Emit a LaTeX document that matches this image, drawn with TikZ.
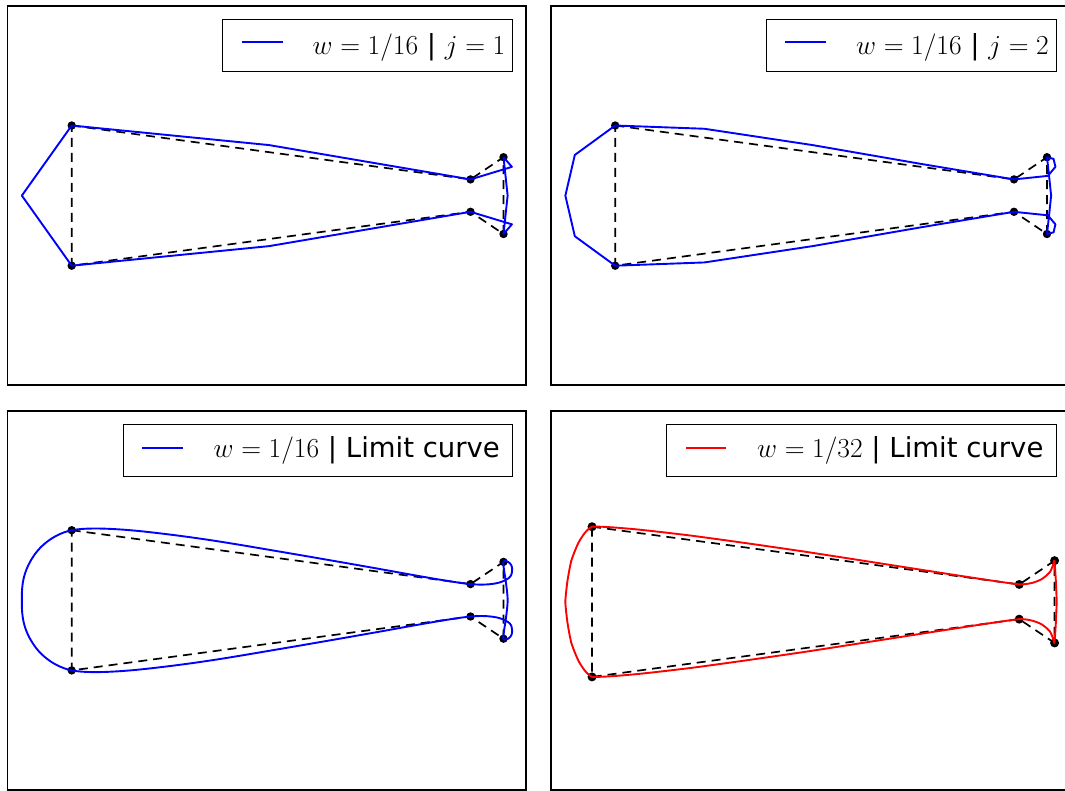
\RequirePackage{fix-cm}
\documentclass[tikz,border=0pt]{standalone}
\usepackage{fontspec}
\newfontfamily\dejavu{DejaVu Sans}

\ExplSyntaxOn
\seq_new:N \g_fourpt_x_seq
\seq_new:N \g_fourpt_y_seq
\seq_new:N \l_fourpt_tmp_seq
\int_new:N \l_fourpt_n_int
\tl_new:N \l_fourpt_path_tl

\cs_new_protected:Npn \fourpt_step:Nn #1 #2
  {
    \int_set:Nn \l_fourpt_n_int { \seq_count:N #1 }
    \seq_clear:N \l_fourpt_tmp_seq
    \int_step_inline:nn { \l_fourpt_n_int }
      {
        \seq_put_right:Nx \l_fourpt_tmp_seq { \seq_item:Nn #1 { ##1 } }
        \seq_put_right:Nx \l_fourpt_tmp_seq
          {
            \fp_eval:n
              {
                ( 0.5 + (#2) ) *
                ( \seq_item:Nn #1 { ##1 }
                  + \seq_item:Nn #1 { \int_mod:nn { ##1 } { \l_fourpt_n_int } + 1 } )
                - (#2) *
                ( \seq_item:Nn #1 { \int_mod:nn { ##1 + \l_fourpt_n_int - 2 } { \l_fourpt_n_int } + 1 }
                  + \seq_item:Nn #1 { \int_mod:nn { ##1 + 1 } { \l_fourpt_n_int } + 1 } )
              }
          }
      }
    \seq_gset_eq:NN #1 \l_fourpt_tmp_seq
  }

\cs_new_protected:Npn \fourpt_draw:nn #1 #2 { \draw [ #1 ] #2 ; }
\cs_generate_variant:Nn \fourpt_draw:nn { nV }

% #1 draw options, #2 weight w, #3 number of steps, #4 x list, #5 y list
\NewDocumentCommand \SubdivCurve { m m m m m }
  {
    \exp_args:NNx \seq_gset_from_clist:Nn \g_fourpt_x_seq { #4 }
    \exp_args:NNx \seq_gset_from_clist:Nn \g_fourpt_y_seq { #5 }
    \prg_replicate:nn { #3 }
      {
        \fourpt_step:Nn \g_fourpt_x_seq { #2 }
        \fourpt_step:Nn \g_fourpt_y_seq { #2 }
      }
    \tl_clear:N \l_fourpt_path_tl
    \int_step_inline:nn { \seq_count:N \g_fourpt_x_seq }
      {
        \tl_put_right:Nx \l_fourpt_path_tl
          {
            ( \fp_eval:n { round( \seq_item:Nn \g_fourpt_x_seq { ##1 } , 3 ) } ,
              \fp_eval:n { round( \seq_item:Nn \g_fourpt_y_seq { ##1 } , 3 ) } ) --
          }
      }
    \tl_put_right:Nn \l_fourpt_path_tl { cycle }
    \fourpt_draw:nV { #1 } \l_fourpt_path_tl
  }
\ExplSyntaxOff

\newcommand{\CtrlX}{71.7,470.5,503.5,503.5,470.5,71.7}
\newcommand{\CtrlY}{125.5,179.4,157.2,234.0,211.8,265.7}

\newcommand{\ControlPolygon}{%
  \coordinate (p1) at (71.7,125.5);
  \coordinate (p3) at (470.5,179.4);
  \coordinate (p5) at (503.5,157.2);
  \coordinate (p6) at (503.5,234.0);
  \coordinate (p4) at (470.5,211.8);
  \coordinate (p2) at (71.7,265.7);
  \draw[ctrl] (p1) -- (p3) -- (p5) -- (p6) -- (p4) -- (p2) -- cycle;
  \foreach \q in {p1,p2,p3,p4,p5,p6} \fill[black] (\q) circle[radius=4.2];
}

\begin{document}
\begin{tikzpicture}[x=1pt,y=-1pt,
  frame/.style={draw=black, line width=1.7pt},
  legbox/.style={draw=black, fill=white, line width=1.3pt},
  ctrl/.style={draw=black, line width=1.7pt, dash pattern=on 9pt off 6pt},
  bluecurve/.style={draw=blue, line width=1.9pt, line join=round},
  redcurve/.style={draw=red, line width=1.9pt, line join=round},
  legline/.style={line width=1.9pt},
  legtext/.style={anchor=base west, inner sep=0pt, font=\fontsize{27.5}{32}\selectfont}
]
\useasboundingbox (0,0) rectangle (1065,790);
\fill[white] (0,0) rectangle (1065,790);

% ---------- frames ----------
\draw[frame] (7.5,6.2) rectangle (526,385.3);
\draw[frame] (551,6.2) rectangle (1069.5,385.3);
\draw[frame] (7.5,410.7) rectangle (526,789.8);
\draw[frame] (551,410.7) rectangle (1069.5,789.8);

% ---------- top left: j = 1 ----------
\begin{scope}
  \ControlPolygon
  \SubdivCurve{bluecurve}{1/16}{1}{\CtrlX}{\CtrlY}
\end{scope}

% ---------- top right: j = 2 ----------
\begin{scope}[shift={(543.5,0)}]
  \ControlPolygon
  \SubdivCurve{bluecurve}{1/16}{2}{\CtrlX}{\CtrlY}
\end{scope}

% ---------- bottom left: limit, w = 1/16 ----------
\begin{scope}[shift={(0,404.7)}]
  \ControlPolygon
  \SubdivCurve{bluecurve}{1/16}{6}{\CtrlX}{\CtrlY}
\end{scope}

% ---------- bottom right: limit, w = 1/32 ----------
\begin{scope}[shift={(592,601.75)}, scale=1.071, shift={(-71.7,-195.6)}]
  \ControlPolygon
  \SubdivCurve{redcurve}{1/32}{6}{\CtrlX}{\CtrlY}
\end{scope}

% ---------- legends ----------
\draw[legbox] (222.7,19.3) rectangle (512.7,71.7);
\draw[legline, blue] (241.7,42.3) -- (282.7,42.3);
\node[legtext] (t1) at (312.5,54.5) {$w=1/16$\dejavu\ |\ $j=1$};

\draw[legbox] (766.2,19.3) rectangle (1056.2,71.7);
\draw[legline, blue] (785.2,42.3) -- (826.2,42.3);
\node[legtext] (t2) at (856,54.5) {$w=1/16$\dejavu\ |\ $j=2$};

\draw[legbox] (123.3,424.7) rectangle (512.7,476.7);
\draw[legline, blue] (142.3,447.8) -- (182.7,447.8);
\node[legtext] (t3) at (213.5,457.3) {$w=1/16$\dejavu\ |\ Limit curve};

\draw[legbox] (666.8,424.7) rectangle (1056.2,476.7);
\draw[legline, red] (685.8,447.8) -- (726.2,447.8);
\node[legtext] (t4) at (757,457.3) {$w=1/32$\dejavu\ |\ Limit curve};
\end{tikzpicture}
\end{document}
